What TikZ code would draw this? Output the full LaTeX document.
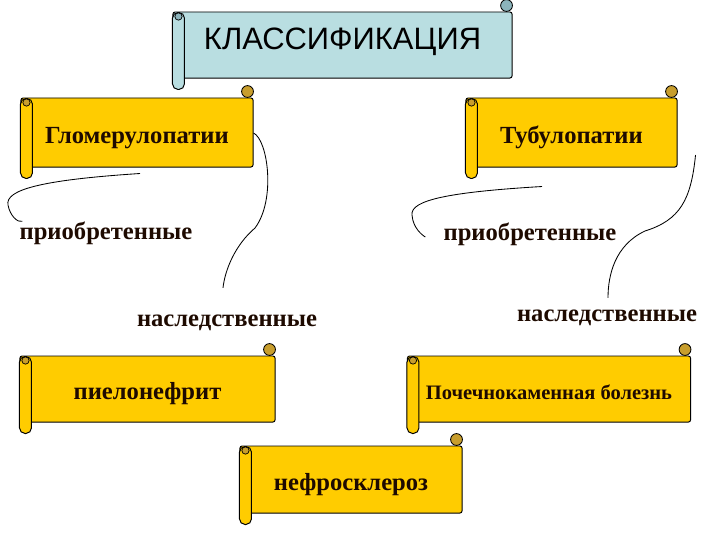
\documentclass[tikz,border=0pt]{standalone}
\usepackage{fontspec}
\setmainfont{Liberation Serif}
\newfontfamily\headfont{Liberation Sans}
\newfontfamily\lblfont{Liberation Serif}
\usepackage{xcolor}
\definecolor{scrollgold}{RGB}{255,204,0}
\definecolor{curlgold}{RGB}{200,158,45}
\definecolor{scrollblue}{RGB}{185,222,225}
\definecolor{curlblue}{RGB}{140,180,188}
\definecolor{inkbrown}{RGB}{30,10,0}
\usepackage{tikz}
\usetikzlibrary{calc}
\tikzset{
  scrollbody/.style={draw, line width=0.7pt, rounded corners=1.5pt, inner sep=0pt},
  goldbody/.style={scrollbody, fill=scrollgold, text height=15pt, text depth=0pt},
  link/.style={black, line width=0.6pt},
  lbl/.style={font=\lblfont\bfseries\fontsize{17.5}{20}\selectfont, text=inkbrown, inner sep=0pt}
}
% rolled ends of a scroll: node, fill, curl fill
\newcommand{\scrollends}[3]{%
  \draw[fill=#2, line width=0.7pt, rounded corners=4pt] ($(#1.north west)+(0,1)$) rectangle ($(#1.south west)+(12,11)$);
  \draw[fill=#3, line width=0.5pt] ($(#1.north west)+(6,5)$) circle (2.6pt);
  \draw[fill=#3, line width=0.6pt] ($(#1.north east)+(-6,-6)$) circle (4.2pt);
}

\begin{document}
\begin{tikzpicture}[x=0.025cm, y=-0.025cm]
  \useasboundingbox (0,0) rectangle (720,540);
  % Title scroll
  \node[scrollbody, fill=scrollblue, minimum width=8.475cm, minimum height=1.65cm, text height=16pt, text depth=10pt,
        font=\headfont\fontsize{22}{26}\selectfont] (klass) at (342.5,45) {КЛАССИФИКАЦИЯ};
  \scrollends{klass}{scrollblue}{curlblue}
  % Glomerulopathies and tubulopathies
  \node[goldbody, minimum width=5.8cm, minimum height=1.725cm, lbl] (glom) at (137,132.5) {Гломерулопатии};
  \scrollends{glom}{scrollgold}{curlgold}
  \node[goldbody, minimum width=5.275cm, minimum height=1.725cm, lbl] (tub) at (571.5,132.5) {Тубулопатии};
  \scrollends{tub}{scrollgold}{curlgold}
  % Sub-labels
  \node[lbl] (acqL) at (106,233) {приобретенные};
  \node[lbl] (hereL) at (227,323) {наследственные};
  \node[lbl] (acqR) at (530,234) {приобретенные};
  \node[lbl] (hereR) at (607,318) {наследственные};
  % Curved links
  \draw[link] ($(glom.south)+(3,6)$) .. controls (40,180) and (5,190) .. (8,205)
              .. controls (10,216) and (18,223) .. ($(acqL.north west)+(3,0)$);
  \draw[link] ($(glom.east)+(0,0.5)$) .. controls (268,140) and (276,200) .. (255,228)
              .. controls (235,245) and (225,270) .. ($(hereL.north)+(-4,-27)$);
  \draw[link] ($(tub.south)+(-29.5,19)$) .. controls (450,192) and (410,200) .. (412,215)
              .. controls (413,228) and (422,235) .. ($(acqR.west)+(-18,3)$);
  \draw[link] ($(tub.east)+(18,22.5)$) .. controls (691,200) and (680,220) .. (645,231)
              .. controls (615,245) and (608,275) .. ($(hereR.north)+(1,-12)$);
  % Lower scrolls
  \node[goldbody, minimum width=6.375cm, minimum height=1.65cm, lbl] (piel) at (147.5,389) {пиелонефрит};
  \scrollends{piel}{scrollgold}{curlgold}
  \node[goldbody, minimum width=7.075cm, minimum height=1.65cm, lbl,
        font=\lblfont\bfseries\fontsize{14.6}{17}\selectfont] (poch) at (549,389) {Почечнокаменная болезнь};
  \scrollends{poch}{scrollgold}{curlgold}
  \node[goldbody, minimum width=5.55cm, minimum height=1.675cm, lbl] (nefr) at (351,479.5) {нефросклероз};
  \scrollends{nefr}{scrollgold}{curlgold}
\end{tikzpicture}
\end{document}
